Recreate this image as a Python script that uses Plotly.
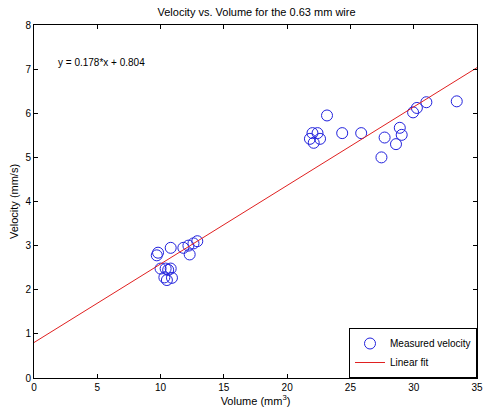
import numpy as np
import plotly.graph_objects as go

# Measured data (volume mm^3, velocity mm/s)
volume = [9.7, 9.8, 10.0, 10.4, 10.6, 10.8, 10.3, 10.5, 10.9, 10.8, 11.8, 12.2, 12.3, 12.6, 12.9,
          21.8, 22.0, 22.4, 22.1, 22.6, 23.15, 24.35, 25.85, 27.45, 27.7, 28.6, 28.9, 29.05,
          29.95, 30.25, 31.0, 33.4]
velocity = [2.78, 2.84, 2.48, 2.48, 2.45, 2.48, 2.28, 2.22, 2.27, 2.95, 2.95, 3.0, 2.8, 3.05, 3.1,
            5.42, 5.55, 5.55, 5.33, 5.42, 5.95, 5.55, 5.55, 5.0, 5.45, 5.3, 5.67, 5.51,
            6.02, 6.12, 6.25, 6.27]

slope = 0.178
intercept = 0.804
fit_x = [0, 35]
fit_y = [slope * v + intercept for v in fit_x]

x_ticks = [0, 5, 10, 15, 20, 25, 30, 35]
y_ticks = [0, 1, 2, 3, 4, 5, 6, 7, 8]

font = "Liberation Sans, Arial, sans-serif"

fig = go.Figure()
fig.add_trace(go.Scatter(
    x=volume, y=velocity, mode="markers", name="Measured velocity",
    marker=dict(symbol="circle-open", size=11, color="#2222dd", line=dict(width=1)),
))
fig.add_trace(go.Scatter(
    x=fit_x, y=fit_y, mode="lines", name="Linear fit",
    line=dict(color="#e02020", width=1),
))

fig.add_annotation(x=1.7, y=7.14, text="y = 0.178*x + 0.804", showarrow=False,
                   xanchor="left", yanchor="middle", font=dict(size=10, color="black", family=font))

axis_common = dict(showgrid=False, zeroline=False, showline=True, linecolor="black", linewidth=1,
                   mirror="allticks", ticks="inside", ticklen=4, tickcolor="black", automargin=False,
                   tickfont=dict(size=10, color="black", family=font))

fig.update_xaxes(range=[0, 35], tickvals=x_ticks, title=dict(text="Volume (mm<sup>3</sup>)", standoff=2,
                 font=dict(size=11, color="black", family=font)), **axis_common)
fig.update_yaxes(range=[0, 8], tickvals=y_ticks, title=dict(text="Velocity (mm/s)", standoff=4,
                 font=dict(size=11, color="black", family=font)), **axis_common)

fig.update_layout(
    width=484, height=411,
    margin=dict(l=34, r=7, t=25, b=33, autoexpand=False),
    paper_bgcolor="white", plot_bgcolor="white",
    title=dict(text="Velocity vs. Volume for the 0.63 mm wire", x=0.53, xanchor="center",
               y=0.97, yanchor="middle", font=dict(size=11, color="black", family=font)),
    legend=dict(x=1, y=0, xanchor="right", yanchor="bottom", bgcolor="white",
                bordercolor="black", borderwidth=1, font=dict(size=10, color="black", family=font),
                tracegroupgap=0, itemwidth=30),
    showlegend=True,
)

fig.write_html("out.html", config={"displayModeBar": False},
               post_script="document.body.style.margin='0';document.body.style.overflow='hidden';")
